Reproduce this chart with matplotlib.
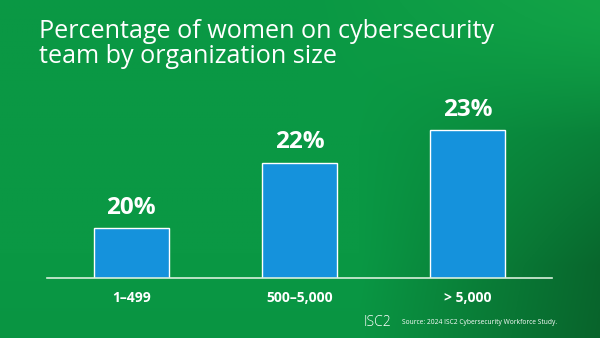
import numpy as np
import matplotlib
matplotlib.use("Agg")
import matplotlib.pyplot as plt

plt.rcParams["font.family"] = ["Open Sans", "DejaVu Sans"]

# chart data
categories = ["1–499", "500–5,000", "> 5,000"]
women_pct = [20, 22, 23]
value_labels = ["20%", "22%", "23%"]

title = "Percentage of women on cybersecurity\nteam by organization size"
source = "Source: 2024 ISC2 Cybersecurity Workforce Study."

fig = plt.figure(figsize=(6, 3.38), dpi=100)

# green gradient background, darker towards the bottom right
bg = fig.add_axes([0, 0, 1, 1])
yy, xx = np.mgrid[0:1:200j, 0:1:360j]
mid = np.array([10, 152, 68]) / 255
dark = np.array([8, 84, 36]) / 255
bright = np.array([22, 168, 72]) / 255
t_dark = np.clip((xx - 0.6) * 1.8, 0, 1) * np.clip(yy * 1.4 - 0.1, 0, 1) + np.clip((yy - 0.75) * 0.6, 0, 1) * 0.3
t_dark = np.clip(t_dark, 0, 1)
t_bright = np.clip((xx - 0.5) * 1.5, 0, 1) * np.clip(1 - yy * 2.5, 0, 1)
img = mid[None, None, :] * (1 - t_dark[..., None]) + dark[None, None, :] * t_dark[..., None]
img = img * (1 - t_bright[..., None]) + bright[None, None, :] * t_bright[..., None]
bg.imshow(img, extent=[0, 1, 0, 1], aspect="auto", origin="upper")
bg.set_axis_off()

ax = fig.add_axes([47 / 600, 1 - 278 / 338, 505 / 600, 178 / 338])
ax.patch.set_alpha(0)
x = np.arange(len(categories))
bars = ax.bar(x, women_pct, width=0.446, color="#1592dc", edgecolor="white", linewidth=1.0)
ax.set_xlim(-0.5, 2.5)
ax.set_ylim(18.47, 23.92)

for b, lab in zip(bars, value_labels):
    ax.annotate(lab, (b.get_x() + b.get_width() / 2, b.get_height()),
                xytext=(0, 6), textcoords="offset points", ha="center", va="bottom",
                color="white", fontsize=17.5, fontweight="bold")

for s in ["top", "right", "left"]:
    ax.spines[s].set_visible(False)
ax.spines["bottom"].set_color("#d8f0dc")
ax.spines["bottom"].set_linewidth(1.2)
ax.set_yticks([])
ax.set_xticks(x)
ax.set_xticklabels(categories, color="white", fontsize=10, fontweight="bold")
ax.tick_params(axis="x", length=0, pad=9)

fig.text(39 / 600, 1 - 19 / 338, title, color="white", fontsize=18.1, ha="left", va="top",
         linespacing=1.0)
fig.text(364 / 600, 1 - 323 / 338, "ISC2", color="white", fontsize=10, ha="left", va="center",
         fontweight="light")
fig.text(402 / 600, 1 - 323 / 338, source, color="white", fontsize=4.8, ha="left", va="center")

fig.savefig("out.png", dpi=100)
